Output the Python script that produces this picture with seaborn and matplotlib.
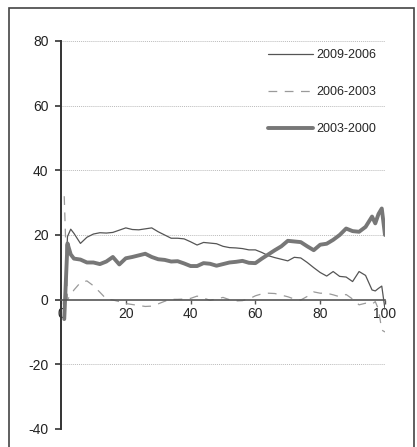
import matplotlib
matplotlib.use("Agg")
import matplotlib.pyplot as plt
import seaborn as sns
import pandas as pd
from matplotlib.patches import Rectangle

# percentile positions shared by all three series
pct = [1, 2, 3] + list(range(4, 97, 2)) + [97, 98, 99, 100]

s2009_2006 = [-3, 19.5, 21.8,
              20.5, 17.4, 19.3, 20.3, 20.7, 20.6, 20.8, 21.5, 22.2, 21.7,
              21.6, 21.9, 22.2, 21.0, 20.0, 19.0, 19.0, 18.8, 17.9, 16.9,
              17.7, 17.5, 17.3, 16.5, 16.1, 16.0, 15.8, 15.4, 15.4, 14.6,
              13.6, 13.0, 12.5, 12.0, 13.1, 12.9, 11.5, 9.9, 8.4, 7.3,
              8.7, 7.2, 7.0, 5.6, 8.7, 7.5, 3.0,
              2.7, 3.5, 4.2, -3]

s2006_2003 = [32, 0, 1.5,
              3.0, 5.3, 5.8, 4.3, 2.3, 0.2, -0.1, -0.6, -1.2, -1.5,
              -1.8, -2.1, -2.0, -1.3, -0.5, 0.1, 0.1, 0.2, 0.4, 1.1,
              0.5, -0.2, 0.2, 0.7, 0.0, -0.4, -0.3, 0.2, 1.2, 1.8,
              2.0, 1.9, 1.4, 0.9, 0.2, -0.1, 1.0, 2.4, 2.0, 2.0,
              1.5, 0.9, 1.6, 0.2, -1.6, -1.1, -1.4,
              -0.6, -3.0, -9.4, -10]

s2003_2000 = [-6, 17.4, 14.0,
              12.7, 12.4, 11.5, 11.5, 11.0, 11.8, 13.2, 10.9, 12.8, 13.2,
              13.7, 14.2, 13.2, 12.5, 12.3, 11.8, 11.9, 11.2, 10.4, 10.4,
              11.3, 11.1, 10.5, 11.0, 11.5, 11.7, 12.0, 11.4, 11.3, 12.7,
              14.0, 15.3, 16.5, 18.2, 18.0, 17.8, 16.5, 15.3, 17.0, 17.3,
              18.5, 20.0, 22.0, 21.2, 21.0, 22.5, 25.7,
              23.6, 26.5, 28.2, 20]

y_ticks = [-40, -20, 0, 20, 40, 60, 80]
x_ticks = [0, 20, 40, 60, 80, 100]

sns.set_style("white")
plt.rcParams["font.family"] = ["Liberation Sans", "DejaVu Sans"]

fig = plt.figure(figsize=(4.17, 4.47), dpi=100)
ax = fig.add_axes([61 / 417, 1 - 429 / 447, (385 - 61) / 417, (429 - 41) / 447])

sns.lineplot(x=pct, y=s2009_2006, ax=ax, color="#555555", lw=0.9,
             label="2009-2006")
sns.lineplot(x=pct, y=s2006_2003, ax=ax, color="#9a9a9a", lw=0.9,
             linestyle=(0, (7, 6)), label="2006-2003")
sns.lineplot(x=pct, y=s2003_2000, ax=ax, color="#777777", lw=2.8,
             label="2003-2000")

ax.set_xlim(0, 100)
ax.set_ylim(-40, 80)
ax.set_yticks(y_ticks)
ax.set_xticks(x_ticks)
ax.set_yticklabels([str(v) for v in y_ticks], fontsize=10, color="#222222")
ax.set_xticklabels([str(v) for v in x_ticks], fontsize=10, color="#222222")

for v in y_ticks:
    if v != 0:
        ax.axhline(v, color="#bbbbbb", lw=0.7, ls=(0, (1, 1)), zorder=0)

for side in ["top", "right"]:
    ax.spines[side].set_visible(False)
ax.spines["bottom"].set_position(("data", 0))
ax.spines["bottom"].set_color("#555555")
ax.spines["bottom"].set_linewidth(1.2)
ax.spines["left"].set_color("#333333")
ax.spines["left"].set_linewidth(1.4)
ax.tick_params(axis="y", direction="out", length=4, width=1.2, color="#333333", pad=5,
               left=True)
ax.tick_params(axis="x", direction="out", length=3, width=1.0, color="#555555", pad=2,
               bottom=True)

ax.legend(loc="upper left", bbox_to_anchor=(0.603, 1.008), frameon=False, fontsize=9,
          handlelength=3.6, handletextpad=0.3, labelspacing=2.0)

fig.patches.append(Rectangle((9 / 417, -0.05), 405 / 417, 1.05 - 8 / 447,
                             transform=fig.transFigure, fill=False,
                             edgecolor="#444444", lw=1.2))

fig.savefig("out.png", dpi=100)
